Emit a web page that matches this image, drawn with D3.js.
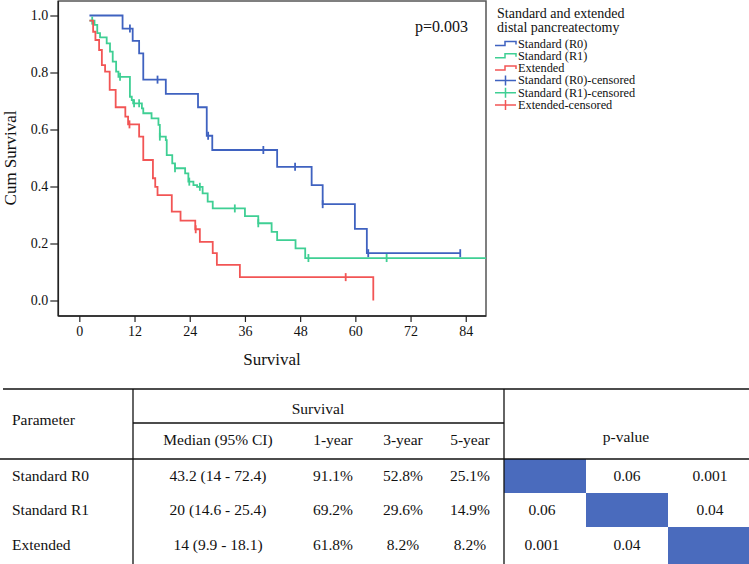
<!DOCTYPE html>
<html><head><meta charset="utf-8">
<script src="https://cdn.jsdelivr.net/npm/d3@7"></script>
<style>body{margin:0;background:#fff}svg{display:block}text{font-family:"Liberation Serif","Times New Roman",serif;fill:#111}</style>
</head><body><svg id="c" width="749" height="564"></svg>
<script>
// ---- data ----
const groups = ["Standard (R0)", "Standard (R1)", "Extended"];
const colors = ["#3f62c0", "#3fcf94", "#f25555"];
const r0Start = [2.2, 1.0];
const r0Steps = [[9.4,0.954],[11.6,0.911],[13.0,0.867],[13.9,0.775],[18.8,0.725],[25.8,0.678],[27.7,0.578],[28.9,0.528],[43.0,0.469],[50.5,0.405],[52.9,0.338],[59.9,0.251],[62.5,0.166]];
const r0Cens = [[11.0,0.954],[17.0,0.775],[28.0,0.578],[40.0,0.528],[46.9,0.469],[52.9,0.338],[62.8,0.166],[82.8,0.166]];
const r0End = 82.8;
const r1Start = [2.2, 0.982];
const r1Steps = [[3.3,0.967],[3.9,0.938],[4.5,0.923],[5.95,0.902],[6.67,0.873],[7.26,0.838],[8.0,0.803],[8.5,0.785],[11.0,0.715],[11.4,0.703],[11.7,0.692],[13.6,0.674],[13.9,0.657],[15.7,0.639],[17.2,0.616],[17.5,0.575],[18.8,0.563],[19.0,0.51],[20.2,0.481],[20.8,0.464],[23.0,0.446],[23.7,0.417],[24.8,0.405],[25.6,0.399],[26.8,0.376],[27.9,0.347],[29.0,0.323],[36.0,0.296],[38.9,0.271],[41.8,0.241],[43.0,0.212],[47.0,0.183],[49.1,0.149]];
const r1Cens = [[2.8,0.982],[8.85,0.785],[11.9,0.692],[13.0,0.692],[17.5,0.575],[20.8,0.464],[23.9,0.417],[26.2,0.399],[33.8,0.323],[38.9,0.271],[49.8,0.149],[66.8,0.149]];
const r1End = 88.4;
const exStart = [2.2, 0.982];
const exSteps = [[3.0,0.943],[3.5,0.914],[4.3,0.879],[4.9,0.826],[5.6,0.803],[6.6,0.739],[7.9,0.678],[10.0,0.645],[10.6,0.618],[13.0,0.575],[13.9,0.493],[16.0,0.429],[16.5,0.399],[17.0,0.370],[20.1,0.312],[22.0,0.280],[25.2,0.250],[26.2,0.206],[29.0,0.166],[29.9,0.125],[34.9,0.082],[63.9,0.0]];
const exCens = [[10.9,0.618],[25.3,0.250],[57.9,0.082]];
const exEnd = 63.9;
const xTicks = [0,12,24,36,48,60,72,84];
const yTicks = [0,0.2,0.4,0.6,0.8,1.0];
const pText = "p=0.003";
const legendTitle = ["Standard and extended","distal pancreatectomy"];
const legendItems = ["Standard (R0)","Standard (R1)","Extended","Standard (R0)-censored","Standard (R1)-censored","Extended-censored"];
// table
const tblParams = ["Standard R0","Standard R1","Extended"];
const tblMedian = ["43.2 (14 - 72.4)","20 (14.6 - 25.4)","14 (9.9 - 18.1)"];
const tbl1y = ["91.1%","69.2%","61.8%"];
const tbl3y = ["52.8%","29.6%","8.2%"];
const tbl5y = ["25.1%","14.9%","8.2%"];
const tblP = [["","0.06","0.001"],["0.06","","0.04"],["0.001","0.04",""]];

// ---- chart ----
const svg = d3.select("#c");
const L = 58.3, R = 486, T = 1, B = 316;
const x = d3.scaleLinear().domain([-4.57, 88.4]).range([L, R]);
const y = d3.scaleLinear().domain([0, 1]).range([300.5, 15.5]);

svg.append("rect").attr("x",L).attr("y",T).attr("width",R-L).attr("height",B-T)
  .attr("fill","none").attr("stroke","#555").attr("stroke-width",1.5);

const gx = svg.append("g").attr("transform",`translate(0,${B})`)
  .call(d3.axisBottom(x).tickValues(xTicks).tickSize(6).tickSizeOuter(0).tickPadding(4));
const gy = svg.append("g").attr("transform",`translate(${L},0)`)
  .call(d3.axisLeft(y).tickValues(yTicks).tickFormat(d3.format(".1f")).tickSize(8).tickSizeOuter(0).tickPadding(2));
[gx,gy].forEach(g=>{
  g.select(".domain").remove();
  g.selectAll("line").attr("stroke","#222").attr("stroke-width",1.2);
  g.selectAll("text").attr("font-size",14).attr("fill","#111").style("font-family",'"Liberation Serif",serif');
});
svg.append("line").attr("x1",L).attr("x2",L).attr("y1",T).attr("y2",B).attr("stroke","#222").attr("stroke-width",1.5);
svg.append("line").attr("x1",L).attr("x2",R).attr("y1",B).attr("y2",B).attr("stroke","#222").attr("stroke-width",1.5);

svg.append("text").attr("transform","translate(16,158) rotate(-90)").attr("text-anchor","middle")
  .attr("font-size",17).text("Cum Survival");
svg.append("text").attr("x",272).attr("y",365).attr("text-anchor","middle").attr("font-size",17).text("Survival");
svg.append("text").attr("x",468).attr("y",32).attr("text-anchor","end").attr("font-size",16).text(pText);

const data = [
  {start:r0Start, steps:r0Steps, cens:r0Cens, end:r0End},
  {start:r1Start, steps:r1Steps, cens:r1Cens, end:r1End},
  {start:exStart, steps:exSteps, cens:exCens, end:exEnd}
];
data.forEach((d,i)=>{
  let pts = [d.start];
  let cur = d.start[1];
  d.steps.forEach(([t,s])=>{ pts.push([t,cur]); pts.push([t,s]); cur = s; });
  if (d.end > pts[pts.length-1][0]) pts.push([d.end,cur]);
  svg.append("path").attr("d", d3.line().x(p=>x(p[0])).y(p=>y(p[1]))(pts))
    .attr("fill","none").attr("stroke",colors[i]).attr("stroke-width",1.8);
  svg.selectAll(null).data(d.cens).enter().append("line")
    .attr("x1",p=>x(p[0])).attr("x2",p=>x(p[0]))
    .attr("y1",p=>y(p[1])-4).attr("y2",p=>y(p[1])+4)
    .attr("stroke",colors[i]).attr("stroke-width",1.8);
});

// legend
const lg = svg.append("g");
lg.selectAll(null).data(legendTitle).enter().append("text")
  .attr("x",497).attr("y",(d,i)=>18+i*13.5).attr("font-size",14).text(d=>d);
legendItems.forEach((name,i)=>{
  const yy = 43.5 + i*12.3;
  const c = colors[i%3];
  if (i<3) {
    lg.append("path").attr("d",`M495,${yy+2}H505V${yy-2}H516V${yy+1}`).attr("fill","none").attr("stroke",c).attr("stroke-width",1.5);
  } else {
    lg.append("path").attr("d",`M495,${yy}H516M505.5,${yy-5}V${yy+5}`).attr("fill","none").attr("stroke",c).attr("stroke-width",1.5);
  }
  lg.append("text").attr("x",518).attr("y",yy+4).attr("font-size",12.3).text(name);
});

// ---- table ----
const tg = svg.append("g");
const ln = (x1,y1,x2,y2,w)=>tg.append("line").attr("x1",x1).attr("y1",y1).attr("x2",x2).attr("y2",y2).attr("stroke","#111").attr("stroke-width",w||1.3);
const rowY = [476, 510, 545];
const rowTop = [459, 493, 527, 564];
const pCols = [504, 586, 668, 749];
tblP.forEach((row,ri)=>row.forEach((v,ci)=>{
  if (ri===ci) tg.append("rect").attr("x",pCols[ci]).attr("y",rowTop[ri]).attr("width",pCols[ci+1]-pCols[ci]).attr("height",rowTop[ri+1]-rowTop[ri]).attr("fill","#4a6bbd");
}));
ln(3,389,749,389,1.5);
ln(0,459,749,459,1.5);
ln(133,423,504,423,1.3);
ln(133,389,133,564,1.3);
ln(504,389,504,564,1.3);
const tt = (tx,ty,s,anchor)=>tg.append("text").attr("x",tx).attr("y",ty).attr("font-size",15.5).attr("text-anchor",anchor||"middle").text(s);
tt(12,425,"Parameter","start");
tt(318,414,"Survival");
tt(626,442,"p-value");
const colX = [218,333,403,470];
["Median (95% CI)","1-year","3-year","5-year"].forEach((h,i)=>tt(colX[i],445,h));
const pX = [542,627,710];
tblParams.forEach((p,i)=>{
  const yy = rowY[i]+5;
  tt(12,yy,p,"start");
  tt(colX[0],yy,tblMedian[i]);
  tt(colX[1],yy,tbl1y[i]);
  tt(colX[2],yy,tbl3y[i]);
  tt(colX[3],yy,tbl5y[i]);
  tblP[i].forEach((v,j)=>{ if(v) tt(pX[j],yy,v); });
});
</script></body></html>
